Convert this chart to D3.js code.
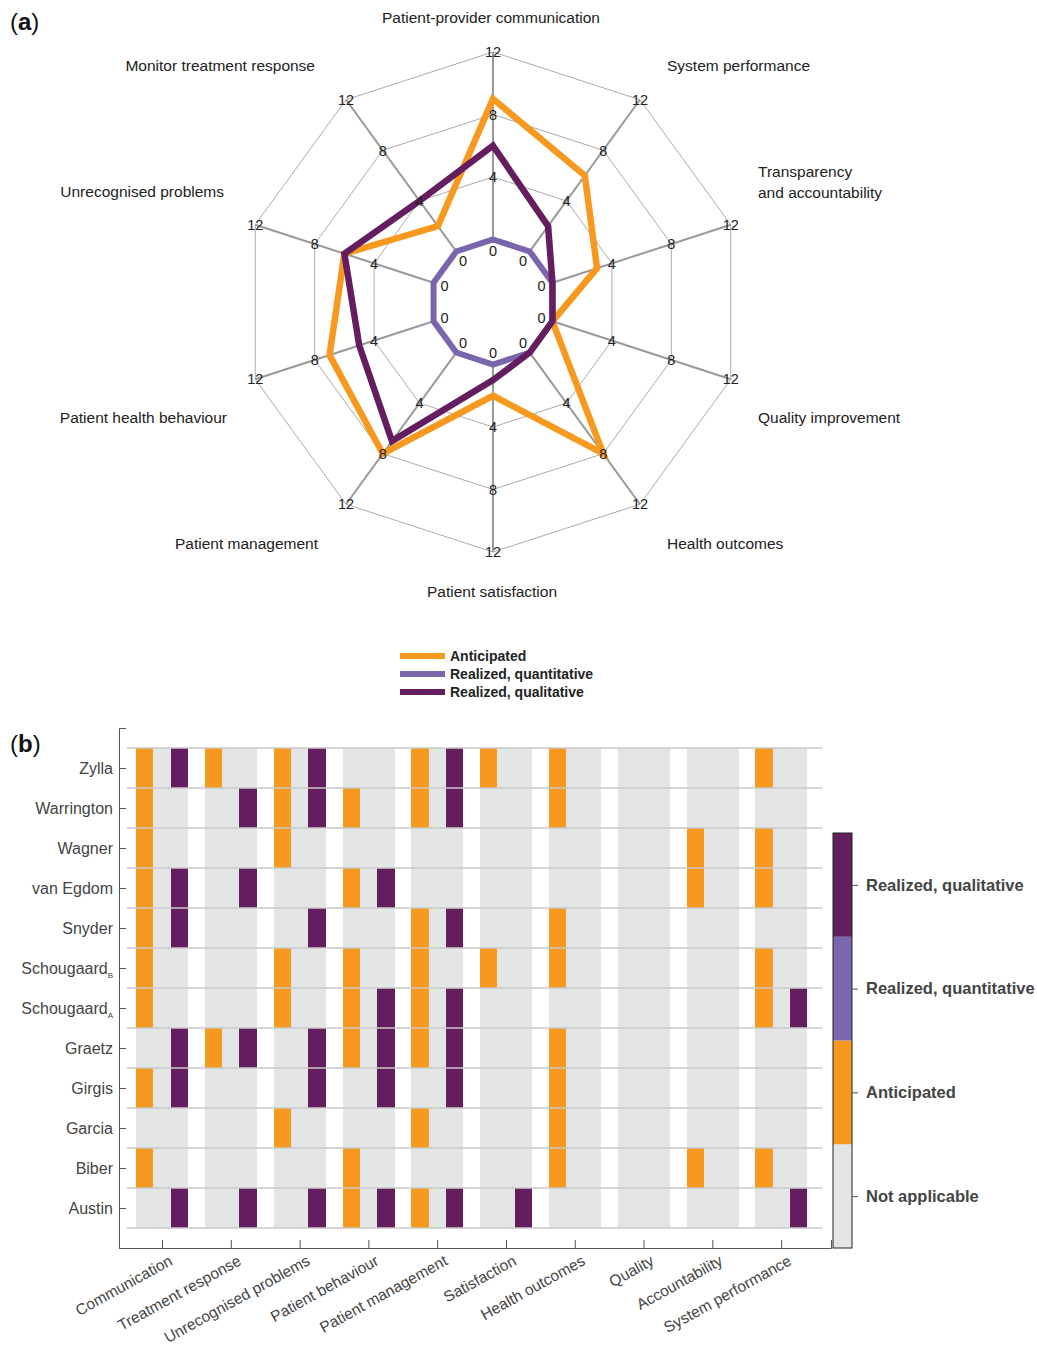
<!DOCTYPE html>
<html>
<head>
<meta charset="utf-8">
<script src="https://cdn.jsdelivr.net/npm/d3@7"></script>
<style>
  body { margin: 0; background: #fff; }
  svg { font-family: "Liberation Sans", Arial, Helvetica, sans-serif; }
</style>
</head>
<body>
<svg id="chart" width="1037" height="1351"></svg>
<script>
// ---- panel (a) radar data ----
var radarAxes = ["Patient-provider communication", "System performance", "Transparency|and accountability",
  "Quality improvement", "Health outcomes", "Patient satisfaction", "Patient management",
  "Patient health behaviour", "Unrecognised problems", "Monitor treatment response"];
var radarTicks = [0, 4, 8, 12];
var anticipated   = [9, 6, 3, 0, 8, 2, 8, 7, 6, 2];
var realizedQuant = [0, 0, 0, 0, 0, 0, 0, 0, 0, 0];
var realizedQual  = [6, 2, 0, 0, 0, 1, 7, 5, 6, 4];
var seriesNames = ["Anticipated", "Realized, quantitative", "Realized, qualitative"];

// ---- panel (b) heatmap data ----
var outcomeCats = ["Communication", "Treatment response", "Unrecognised problems", "Patient behaviour",
  "Patient management", "Satisfaction", "Health outcomes", "Quality", "Accountability", "System performance"];
var studies   = ["Zylla", "Warrington", "Wagner", "van Egdom", "Snyder", "Schougaard", "Schougaard",
  "Graetz", "Girgis", "Garcia", "Biber", "Austin"];
var studySubs = ["", "", "", "", "", "B", "A", "", "", "", "", ""];
// one row per study, one flag per outcome category
var anticipatedCells = [
  [1,1,1,0,1,1,1,0,0,1],
  [1,0,1,1,1,0,1,0,0,0],
  [1,0,1,0,0,0,0,0,1,1],
  [1,0,0,1,0,0,0,0,1,1],
  [1,0,0,0,1,0,1,0,0,0],
  [1,0,1,1,1,1,1,0,0,1],
  [1,0,1,1,1,0,0,0,0,1],
  [0,1,0,1,1,0,1,0,0,0],
  [1,0,0,0,0,0,1,0,0,0],
  [0,0,1,0,1,0,1,0,0,0],
  [1,0,0,1,0,0,1,0,1,1],
  [0,0,0,1,1,0,0,0,0,0]
];
var quantCells = [
  [0,0,0,0,0,0,0,0,0,0],
  [0,0,0,0,0,0,0,0,0,0],
  [0,0,0,0,0,0,0,0,0,0],
  [0,0,0,0,0,0,0,0,0,0],
  [0,0,0,0,0,0,0,0,0,0],
  [0,0,0,0,0,0,0,0,0,0],
  [0,0,0,0,0,0,0,0,0,0],
  [0,0,0,0,0,0,0,0,0,0],
  [0,0,0,0,0,0,0,0,0,0],
  [0,0,0,0,0,0,0,0,0,0],
  [0,0,0,0,0,0,0,0,0,0],
  [0,0,0,0,0,0,0,0,0,0]
];
var qualCells = [
  [1,0,1,0,1,0,0,0,0,0],
  [0,1,1,0,1,0,0,0,0,0],
  [0,0,0,0,0,0,0,0,0,0],
  [1,1,0,1,0,0,0,0,0,0],
  [1,0,1,0,1,0,0,0,0,0],
  [0,0,0,0,0,0,0,0,0,0],
  [0,0,0,1,1,0,0,0,0,1],
  [1,1,1,1,1,0,0,0,0,0],
  [1,0,1,1,1,0,0,0,0,0],
  [0,0,0,0,0,0,0,0,0,0],
  [0,0,0,0,0,0,0,0,0,0],
  [1,1,1,1,1,1,0,0,0,1]
];
var statusLabels = ["Not applicable", "Anticipated", "Realized, quantitative", "Realized, qualitative"];
var statusColors = ["#e4e5e5", "#f7981f", "#7a66ac", "#641e5f"];

var svg = d3.select("#chart");
var color = d3.scaleOrdinal().domain([0, 1, 2, 3]).range(statusColors);

// panel letters
function panelLetter(letter, x, y) {
  var t = svg.append("text").attr("x", x).attr("y", y)
    .attr("font-size", 24).attr("fill", "#111");
  t.append("tspan").text("(");
  t.append("tspan").attr("font-weight", "bold").text(letter);
  t.append("tspan").text(")");
}
panelLetter("a", 10, 30);
panelLetter("b", 10, 752);

// ================= radar =================
var cx = 493, cy = 302;
var n = radarAxes.length;
var r = d3.scaleLinear().domain([-4, 12]).range([0, 250]);
var angle = function(i) { return i * 2 * Math.PI / n; };

var radar = svg.append("g").attr("transform", "translate(" + cx + "," + cy + ")");

var ring = d3.lineRadial()
    .angle(function(d, i) { return angle(i); })
    .radius(function(d) { return r(d); })
    .curve(d3.curveLinearClosed);

radar.selectAll(".ring")
    .data(radarTicks)
  .enter().append("path")
    .attr("class", "ring")
    .attr("d", function(t) { return ring(d3.range(n).map(function() { return t; })); })
    .attr("fill", "none")
    .attr("stroke", "#a0a0a0")
    .attr("stroke-width", 0.9);

radar.selectAll(".spoke")
    .data(d3.range(n))
  .enter().append("line")
    .attr("class", "spoke")
    .attr("x1", function(i) { return r(0) * Math.sin(angle(i)); })
    .attr("y1", function(i) { return -r(0) * Math.cos(angle(i)); })
    .attr("x2", function(i) { return r(12) * Math.sin(angle(i)); })
    .attr("y2", function(i) { return -r(12) * Math.cos(angle(i)); })
    .attr("stroke", "#999")
    .attr("stroke-width", 2);

// series
var series = [
  { name: seriesNames[0], values: anticipated, color: statusColors[1], width: 6.5 },
  { name: seriesNames[1], values: realizedQuant, color: statusColors[2], width: 6 },
  { name: seriesNames[2], values: realizedQual, color: statusColors[3], width: 6.5 }
];
radar.selectAll(".series")
    .data(series)
  .enter().append("path")
    .attr("class", "series")
    .attr("d", function(s) { return ring(s.values); })
    .attr("fill", "none")
    .attr("stroke", function(s) { return s.color; })
    .attr("stroke-width", function(s) { return s.width; })
    .attr("stroke-linejoin", "miter");

// tick labels on every spoke
var tickData = [];
d3.range(n).forEach(function(i) {
  radarTicks.forEach(function(t) { tickData.push({ i: i, t: t }); });
});
radar.selectAll(".rtick")
    .data(tickData)
  .enter().append("text")
    .attr("class", "rtick")
    .attr("x", function(d) { return (d.t === 0 ? 51 : r(d.t)) * Math.sin(angle(d.i)); })
    .attr("y", function(d) { return -(d.t === 0 ? 51 : r(d.t)) * Math.cos(angle(d.i)); })
    .attr("dy", "0.36em")
    .attr("text-anchor", "middle")
    .attr("font-size", 14.5)
    .attr("fill", "#222")
    .text(function(d) { return d.t; });

// axis labels (hand placed, as in the original figure)
var labelPos = [
  [-2, -284, "middle"], [174, -236, "start"], [265, -130, "start"], [265, 116, "start"],
  [174, 242, "start"], [-1, 290, "middle"], [-175, 242, "end"], [-266, 116, "end"],
  [-269, -110, "end"], [-178, -236, "end"]
];
radarAxes.forEach(function(name, i) {
  var p = labelPos[i];
  var t = radar.append("text")
      .attr("x", p[0]).attr("y", p[1])
      .attr("text-anchor", p[2])
      .attr("font-size", 15.5)
      .attr("fill", "#222");
  name.split("|").forEach(function(line, j) {
    t.append("tspan").attr("x", p[0]).attr("dy", j === 0 ? "0.35em" : "1.3em").text(line);
  });
});

// legend
var legend = svg.append("g").attr("transform", "translate(400,656)");
series.forEach(function(s, i) {
  var g = legend.append("g").attr("transform", "translate(0," + (i * 18) + ")");
  g.append("line").attr("x1", 0).attr("x2", 45).attr("y1", 0).attr("y2", 0)
    .attr("stroke", s.color).attr("stroke-width", 6);
  g.append("text").attr("x", 50).attr("dy", "0.36em")
    .attr("font-size", 14).attr("font-weight", "bold").attr("fill", "#222")
    .text(s.name);
});

// ================= heatmap =================
var hLeft = 119, hRight = 831, hTop = 728, hBottom = 1248;
var xh = d3.scaleLinear().domain([0, 41.4]).range([hLeft, hRight]);
var yh = d3.scaleLinear().domain([0, 13]).range([hTop, hBottom]);

var cells = [];
studies.forEach(function(s, i) {
  outcomeCats.forEach(function(c, g) {
    var st = [anticipatedCells[i][g] ? 1 : 0, quantCells[i][g] ? 2 : 0, qualCells[i][g] ? 3 : 0];
    st.forEach(function(v, k) { cells.push({ row: i, col: g * 4 + k, status: v }); });
  });
});

var heat = svg.append("g");

heat.selectAll(".cell")
    .data(cells)
  .enter().append("rect")
    .attr("class", "cell")
    .attr("x", function(d) { return xh(d.col + 1); })
    .attr("width", function(d) { return xh(d.col + 2) - xh(d.col + 1) + 0.4; })
    .attr("y", function(d) { return yh(d.row + 0.5); })
    .attr("height", function(d) { return yh(d.row + 1.5) - yh(d.row + 0.5); })
    .attr("fill", function(d) { return color(d.status); })
    .attr("shape-rendering", "crispEdges");

heat.selectAll(".rowline")
    .data(d3.range(studies.length + 1))
  .enter().append("line")
    .attr("class", "rowline")
    .attr("x1", xh(0.45)).attr("x2", xh(40.9))
    .attr("y1", function(i) { return yh(i + 0.5); })
    .attr("y2", function(i) { return yh(i + 0.5); })
    .attr("stroke", "#c8c8c8")
    .attr("stroke-width", 1.5);

// y axis
var yAxis = heat.append("g")
    .attr("transform", "translate(" + hLeft + ",0)")
    .call(d3.axisLeft(yh)
      .tickValues(d3.range(1, studies.length + 1))
      .tickSize(-7)
      .tickPadding(6)
      .tickFormat(function(v) { return studies[v - 1]; }));
yAxis.select(".domain").attr("stroke", "#555");
yAxis.selectAll(".tick line").attr("stroke", "#555");
yAxis.selectAll(".tick text")
    .attr("font-size", 16)
    .attr("fill", "#444")
    .each(function(v) {
      var sub = studySubs[v - 1];
      if (sub) {
        d3.select(this).append("tspan")
          .attr("font-size", 8).attr("dy", "0.6em").text(sub);
      }
    });

// x axis
var xAxis = heat.append("g")
    .attr("transform", "translate(0," + hBottom + ")")
    .call(d3.axisBottom(xh)
      .tickValues(outcomeCats.map(function(c, g) { return g * 4 + 2.5; }))
      .tickSize(-8)
      .tickFormat(function(v) { return outcomeCats[Math.round((v - 2.5) / 4)]; }));
xAxis.select(".domain").attr("stroke", "#555");
xAxis.selectAll(".tick line").attr("stroke", "#555");
xAxis.selectAll(".tick text")
    .attr("font-size", 15.5)
    .attr("fill", "#444")
    .attr("text-anchor", "end")
    .attr("dy", null)
    .attr("y", 0)
    .attr("transform", "translate(11,16) rotate(-29)");

// colour bar
var cbX = 833, cbW = 19, cbTop = 833;
var yc = d3.scaleLinear().domain([0, 4]).range([hBottom, cbTop]);
var cbar = svg.append("g");
cbar.selectAll("rect")
    .data(statusLabels)
  .enter().append("rect")
    .attr("x", cbX)
    .attr("width", cbW)
    .attr("y", function(d, i) { return yc(i + 1); })
    .attr("height", function(d, i) { return yc(i) - yc(i + 1); })
    .attr("fill", function(d, i) { return statusColors[i]; });
cbar.append("rect")
    .attr("x", cbX).attr("y", cbTop).attr("width", cbW).attr("height", hBottom - cbTop)
    .attr("fill", "none").attr("stroke", "#222").attr("stroke-width", 1);
var cAxis = cbar.append("g")
    .attr("transform", "translate(" + (cbX + cbW) + ",0)")
    .call(d3.axisRight(yc)
      .tickValues([0.5, 1.5, 2.5, 3.5])
      .tickSize(6)
      .tickPadding(8)
      .tickFormat(function(v) { return statusLabels[Math.floor(v)]; }));
cAxis.select(".domain").remove();
cAxis.selectAll(".tick line").attr("stroke", "#555");
cAxis.selectAll(".tick text")
    .attr("font-size", 16.5)
    .attr("font-weight", "bold")
    .attr("fill", "#444");
</script>
</body>
</html>
